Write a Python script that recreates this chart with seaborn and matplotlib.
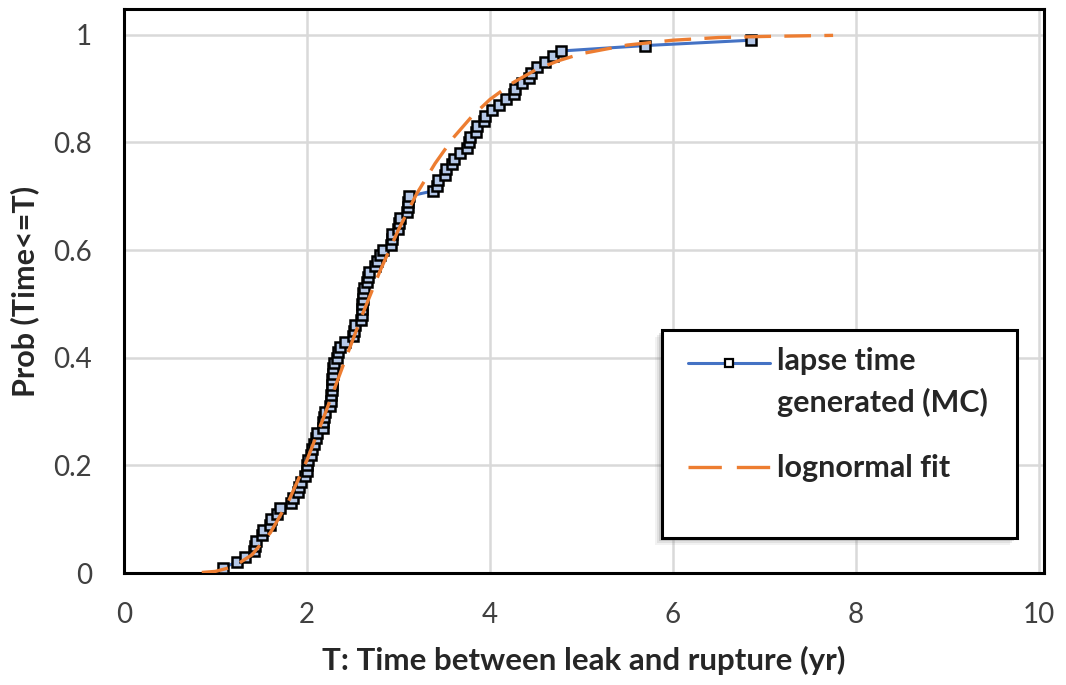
import matplotlib
matplotlib.use("Agg")
import matplotlib.pyplot as plt
import pandas as pd
import seaborn as sns
from matplotlib.lines import Line2D
from matplotlib.patches import Rectangle

# Monte Carlo sample of lapse times (yr), sorted, with their cumulative probabilities
lapse_time = [
    1.08, 1.23, 1.32, 1.42, 1.43, 1.44, 1.51, 1.52, 1.60, 1.61,
    1.67, 1.70, 1.83, 1.85, 1.90, 1.91, 1.93, 1.98, 2.00, 2.00,
    2.01, 2.04, 2.06, 2.08, 2.10, 2.11, 2.17, 2.18, 2.19, 2.20,
    2.25, 2.26, 2.26, 2.27, 2.27, 2.27, 2.28, 2.28, 2.29, 2.33,
    2.34, 2.36, 2.42, 2.50, 2.51, 2.52, 2.59, 2.60, 2.60, 2.60,
    2.61, 2.61, 2.62, 2.66, 2.67, 2.68, 2.74, 2.77, 2.80, 2.83,
    2.92, 2.93, 2.93, 3.00, 3.01, 3.02, 3.09, 3.10, 3.10, 3.11,
    3.38, 3.42, 3.43, 3.51, 3.52, 3.59, 3.61, 3.67, 3.75, 3.77,
    3.78, 3.85, 3.86, 3.93, 3.95, 4.02, 4.10, 4.18, 4.26, 4.27,
    4.35, 4.43, 4.45, 4.51, 4.60, 4.69, 4.78, 5.69, 6.85,
]
cum_prob = [
    0.01, 0.02, 0.03, 0.04, 0.05, 0.06, 0.07, 0.08, 0.09, 0.10,
    0.11, 0.12, 0.13, 0.14, 0.15, 0.16, 0.17, 0.18, 0.19, 0.20,
    0.21, 0.22, 0.23, 0.24, 0.25, 0.26, 0.27, 0.28, 0.29, 0.30,
    0.31, 0.32, 0.33, 0.34, 0.35, 0.36, 0.37, 0.38, 0.39, 0.40,
    0.41, 0.42, 0.43, 0.44, 0.45, 0.46, 0.47, 0.48, 0.49, 0.50,
    0.51, 0.52, 0.53, 0.54, 0.55, 0.56, 0.57, 0.58, 0.59, 0.60,
    0.61, 0.62, 0.63, 0.64, 0.65, 0.66, 0.67, 0.68, 0.69, 0.70,
    0.71, 0.72, 0.73, 0.74, 0.75, 0.76, 0.77, 0.78, 0.79, 0.80,
    0.81, 0.82, 0.83, 0.84, 0.85, 0.86, 0.87, 0.88, 0.89, 0.90,
    0.91, 0.92, 0.93, 0.94, 0.95, 0.96, 0.97, 0.98, 0.99,
]

# Fitted lognormal CDF
fit_time = [0.85, 1.0, 1.2, 1.4, 1.6, 1.8, 2.0, 2.2, 2.4, 2.6, 2.8, 3.0, 3.2,
            3.4, 3.6, 3.8, 4.0, 4.25, 4.5, 4.75, 5.0, 5.5, 6.0, 6.5, 7.0, 7.75]
fit_prob = [0.001, 0.003, 0.012, 0.034, 0.075, 0.134, 0.210, 0.297, 0.388,
            0.478, 0.562, 0.638, 0.705, 0.761, 0.809, 0.848, 0.880, 0.911,
            0.935, 0.952, 0.965, 0.981, 0.990, 0.995, 0.997, 0.999]

x_ticks = [0, 2, 4, 6, 8, 10]
y_ticks = [0, 0.2, 0.4, 0.6, 0.8, 1.0]
y_tick_labels = ["0", "0.2", "0.4", "0.6", "0.8", "1"]

mc_label = "lapse time\ngenerated (MC)"
fit_label = "lognormal fit"
x_label = "T: Time between leak and rupture (yr)"
y_label = "Prob (Time<=T)"

BLUE = "#4472C4"
ORANGE = "#ED7D31"
MARKER_FACE = "#B4C7E7"
GRID = "#D9D9D9"

sns.set_theme(style="white")
plt.rcParams["font.family"] = ["Lato", "DejaVu Sans"]

W, H = 1066, 685
fig = plt.figure(figsize=(W / 100, H / 100), dpi=100)


def fx(px):
    return px / W


def fy(py):
    return 1 - py / H


ax = fig.add_axes([fx(124), fy(573), fx(1044) - fx(124), fy(9) - fy(573)])

mc = pd.DataFrame({"T": lapse_time, "P": cum_prob})
fit = pd.DataFrame({"T": fit_time, "P": fit_prob})

sns.lineplot(data=mc, x="T", y="P", ax=ax, estimator=None, sort=False,
             color=BLUE, lw=2.2, marker="s", markersize=6.8,
             markerfacecolor=MARKER_FACE, markeredgecolor="black",
             markeredgewidth=1.8, zorder=3)
sns.lineplot(data=fit, x="T", y="P", ax=ax, estimator=None, sort=False,
             color=ORANGE, lw=2.4, zorder=4)
ax.lines[-1].set_dashes((8, 4))

ax.set_xlim(0, 10.055)
ax.set_ylim(0, 1.048)
ax.set_xticks(x_ticks)
ax.set_xticklabels([str(t) for t in x_ticks])
ax.set_yticks(y_ticks)
ax.set_yticklabels(y_tick_labels)
ax.grid(True, color=GRID, lw=1.8, zorder=0)
ax.set_axisbelow(True)
ax.tick_params(axis="both", length=0, labelsize=20, colors="#404040")
ax.tick_params(axis="x", pad=21)
ax.tick_params(axis="y", pad=23)
for s in ax.spines.values():
    s.set_color("black")
    s.set_linewidth(2.2)
    s.set_visible(True)

ax.set_xlabel(x_label, fontsize=22.5, fontweight="bold", labelpad=13)
ax.set_ylabel(y_label, fontsize=22, fontweight="bold", labelpad=10)

# Legend box with a soft shadow
for off, alpha in [(7, 0.10), (5, 0.15), (3, 0.25)]:
    fig.add_artist(Rectangle((fx(662 - off), fy(538 + off)), fx(355), fy(330) - fy(538),
                             transform=fig.transFigure, facecolor="gray",
                             edgecolor="none", alpha=alpha, zorder=5))
fig.add_artist(Rectangle((fx(662), fy(538)), fx(355), fy(330) - fy(538),
                         transform=fig.transFigure, facecolor="white",
                         edgecolor="black", lw=2.2, zorder=6))

fig.add_artist(Line2D([fx(688), fx(770)], [fy(363), fy(363)], transform=fig.transFigure,
                      color=BLUE, lw=2.2, zorder=7))
fig.add_artist(Line2D([fx(729)], [fy(363)], transform=fig.transFigure, marker="s",
                      markersize=6.2, markerfacecolor="white", markeredgecolor="black",
                      markeredgewidth=1.6, zorder=8))
fig.add_artist(Line2D([fx(688), fx(770)], [fy(467), fy(467)], transform=fig.transFigure,
                      color=ORANGE, lw=2.4, dashes=(10, 4.5), zorder=7))

mc_lines = mc_label.split("\n")
fig.text(fx(777), fy(370), mc_lines[0], fontsize=22, fontweight="bold",
         va="baseline", ha="left", zorder=8)
fig.text(fx(777), fy(412), mc_lines[1], fontsize=22, fontweight="bold",
         va="baseline", ha="left", zorder=8)
fig.text(fx(777), fy(477), fit_label, fontsize=22, fontweight="bold",
         va="baseline", ha="left", zorder=8)

fig.savefig("out.png", dpi=100, facecolor="white")
